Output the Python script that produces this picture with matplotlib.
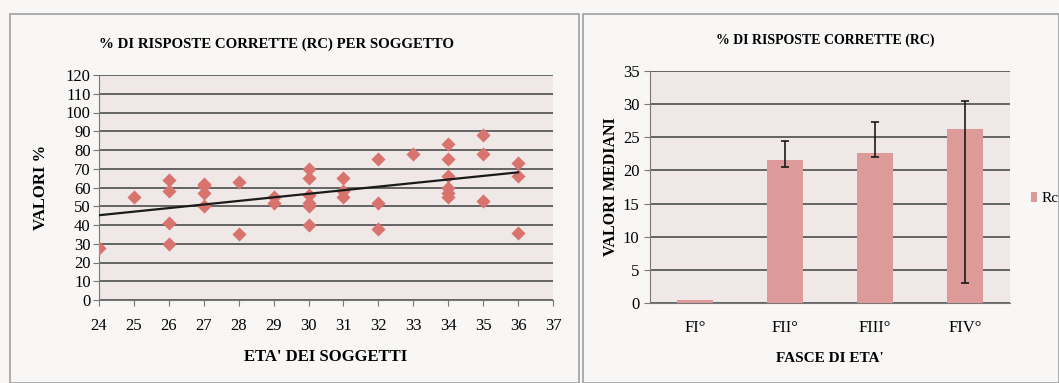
import numpy as np
import matplotlib
matplotlib.use('Agg')
import matplotlib.pyplot as plt
from matplotlib.patches import Rectangle

plt.rcParams['font.family'] = ['Liberation Serif', 'DejaVu Serif']

# left chart: % correct answers per subject, by age
ages = [24, 25, 26, 26, 26, 26, 27, 27, 27, 27, 28, 28, 29, 29,
        30, 30, 30, 30, 30, 30, 31, 31, 31, 32, 32, 32, 33,
        34, 34, 34, 34, 34, 34, 35, 35, 35, 36, 36, 36]
scores = [28, 55, 64, 58, 41, 30, 62, 61, 57, 50, 63, 35, 55, 52,
          70, 65, 56, 52, 50, 40, 65, 58, 55, 75, 52, 38, 78,
          83, 75, 66, 60, 57, 55, 88, 78, 53, 73, 66, 36]

# right chart: median values per age band
bands = ['FI°', 'FII°', 'FIII°', 'FIV°']
medians = [0.4, 21.6, 22.6, 26.2]
err_low = [0, 1.1, 0.5, 23.2]
err_high = [0, 2.9, 4.7, 4.3]

fig_bg = '#f8f7f6'
plot_bg = '#efe8e6'
grid_c = '#5a5a5a'
marker_c = '#d9736d'
bar_c = '#dc9b98'

fig = plt.figure(figsize=(10.59, 3.83), dpi=100, facecolor=fig_bg)
W, H = 1059, 383

# panel frames
for x0, x1 in [(10, 579), (583, 1059)]:
    fig.patches.append(Rectangle((x0 / W, 0), (x1 - x0) / W, 1 - 14 / H,
                                 transform=fig.transFigure, fill=False,
                                 edgecolor='#a0a0a0', linewidth=1.2))

# ---- scatter chart
ax1 = fig.add_axes([99 / W, 1 - 300 / H, (553 - 99) / W, 225 / H], facecolor=plot_bg)
ax1.set_xlim(24, 37)
ax1.set_ylim(0, 120)
ax1.set_yticks(range(0, 121, 10))
ax1.set_xticks(range(24, 38))
ax1.grid(axis='y', color=grid_c, linewidth=1.3)
ax1.set_axisbelow(True)
ax1.scatter(ages, scores, marker='D', s=52, color=marker_c, zorder=3, linewidths=0)
k, b = np.polyfit(ages, scores, 1)
xs = np.array([24, 36])
ax1.plot(xs, k * xs + b, color='#1a1a1a', linewidth=1.6, zorder=4)
for s in ['top', 'right']:
    ax1.spines[s].set_visible(False)
for s in ['left', 'bottom']:
    ax1.spines[s].set_color('#777777')
ax1.tick_params(axis='both', labelsize=12, color='#777777', length=4)
ax1.tick_params(axis='x', pad=9)
ax1.tick_params(axis='y', pad=2)
ax1.set_xlabel("ETA' DEI SOGGETTI", fontsize=12, fontweight='bold', labelpad=11)
ax1.set_ylabel('VALORI %', fontsize=12, fontweight='bold', labelpad=12)
fig.text(277 / W, 1 - 44 / H, '% DI RISPOSTE CORRETTE (RC) PER SOGGETTO',
         ha='center', va='center', fontsize=10.7, fontweight='bold')

# ---- bar chart
ax2 = fig.add_axes([650 / W, 1 - 303 / H, 360 / W, 232 / H], facecolor=plot_bg)
x = np.arange(len(bands))
ax2.bar(x, medians, width=0.4, color=bar_c, zorder=3, label='Rc')
ax2.errorbar(x[1:], medians[1:], yerr=[err_low[1:], err_high[1:]], fmt='none',
             ecolor='#1a1a1a', elinewidth=1.2, capsize=3, capthick=1.2, zorder=4)
ax2.set_xlim(-0.5, 3.5)
ax2.set_ylim(0, 35)
ax2.set_yticks(range(0, 36, 5))
ax2.set_xticks(x)
ax2.set_xticklabels(bands)
ax2.grid(axis='y', color=grid_c, linewidth=1.3)
ax2.set_axisbelow(True)
for s in ['top', 'right']:
    ax2.spines[s].set_visible(False)
for s in ['left', 'bottom']:
    ax2.spines[s].set_color('#777777')
ax2.tick_params(axis='both', labelsize=12, color='#777777', length=4)
ax2.tick_params(axis='x', pad=12, length=0)
ax2.set_xlabel("FASCE DI ETA'", fontsize=11, fontweight='bold', labelpad=12)
ax2.set_ylabel('VALORI MEDIANI', fontsize=11.5, fontweight='bold', labelpad=3)
fig.text(825 / W, 1 - 40 / H, '% DI RISPOSTE CORRETTE (RC)',
         ha='center', va='center', fontsize=10, fontweight='bold')
ax2.legend(loc='center left', bbox_to_anchor=(1.02, 0.45), frameon=False,
           fontsize=11, handlelength=0.4, handleheight=0.6, handletextpad=0.3)

fig.savefig('out.png', dpi=100, facecolor=fig_bg)
